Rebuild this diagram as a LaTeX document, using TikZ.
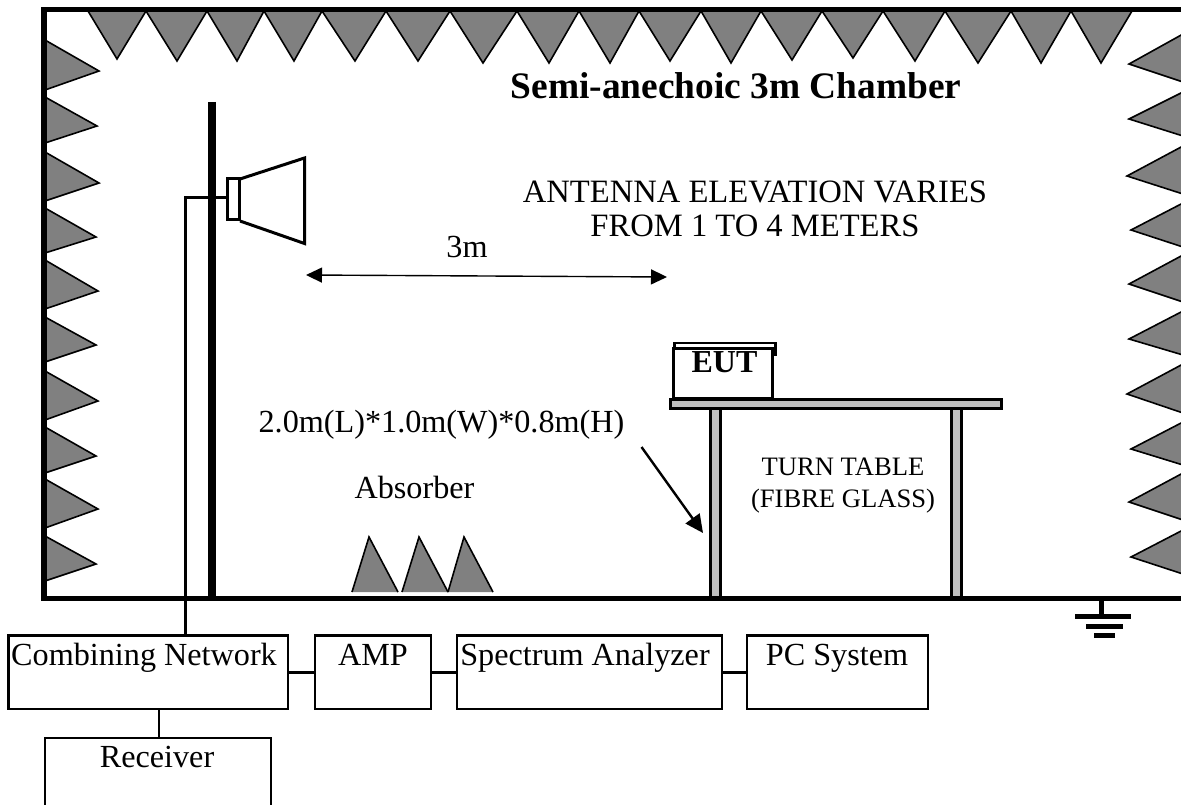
\documentclass[tikz,border=0pt]{standalone}
\usepackage{fontspec}
\setmainfont{Liberation Serif}
\usetikzlibrary{arrows.meta}
\definecolor{absgray}{HTML}{808080}
\definecolor{tblgray}{HTML}{C0C0C0}
\tikzset{
  absorber/.style={fill=absgray,draw=black,line width=1.6pt,line join=miter},
  wall/.style={draw=black,line width=5.5pt,line join=miter},
  boxnode/.style={draw=black,line width=2.6pt,inner sep=0pt,outer sep=0pt,fill=white},
  link/.style={draw=black,line width=2.6pt},
  txt/.style={inner sep=0pt,anchor=base,font=\fontsize{32.2}{34}\selectfont},
  btxt/.style={txt,font=\fontsize{32}{34}\selectfont\bfseries},
  titletxt/.style={txt,font=\fontsize{37.4}{40}\selectfont\bfseries},
  elevtxt/.style={inner sep=0pt,align=center,font=\fontsize{32.6}{34}\selectfont},
  smalltxt/.style={inner sep=0pt,align=center,font=\fontsize{26.6}{32}\selectfont},
  wood/.style={draw=black,line width=3pt,fill=tblgray,inner sep=0pt,outer sep=0pt},
  gbar/.style={draw=black,line width=5pt},
  pointer/.style={draw=black,line width=2.4pt,-{Triangle[length=18pt,width=17pt]}},
  span/.style={draw=black,line width=1.4pt,{Triangle[length=16pt,width=15pt]}-{Triangle[length=16pt,width=15pt]}},
}
\begin{document}
\begin{tikzpicture}[x=1pt,y=-1pt]
\useasboundingbox (0,0) rectangle (1181,805);
\clip (0,0) rectangle (1181,805);
% top absorbers: left base, apex x, apex y, right base
\foreach \a/\b/\c/\d in {88/117/59/146,146/177/61/207,207/237/61/264,264/294/61/322,322/355/61/386,
  386/418/61/450,450/483/63/517,517/549/63/579,579/610/63/639,639/670/61/701,701/731/63/761,
  761/792/60/822,822/853/58/883,883/915/61/945,945/978/63/1011,1011/1041/63/1071,1071/1101/63/1132}
  \draw[absorber] (\a,11) -- (\b,\c) -- (\d,11) -- cycle;
% left absorbers: top, tip x, tip y, bottom
\foreach \a/\b/\c/\d in {40/99/71/90,97/97/126/143,152/99/183/201,208/96/237/253,260/98/291/309,
  317/96/345/362,371/98/401/420,427/96/456/473,479/98/509/528,536/96/564/581}
  \draw[absorber] (45,\a) -- (\b,\c) -- (45,\d) -- cycle;
% right absorbers: top, tip x, tip y, bottom
\foreach \a/\b/\c/\d in {34/1129/64/82,92/1129/119/136,146/1127/176/194,203/1131/230/247,255/1129/284/302,
  311/1129/339/355,364/1127/394/413,422/1131/449/465,473/1129/502/520,530/1131/557/574}
  \draw[absorber] (1183,\a) -- (\b,\c) -- (1183,\d) -- cycle;
% floor absorbers (no outline along the base)
\foreach \a/\b/\d in {352/369/398,402/419/448,448/464/493}
  \draw[absorber] (\a,592) -- (\b,537) -- (\d,592);
% table legs, behind the floor line
\node[wood,minimum width=10pt,minimum height=190pt] (legL) at (715.5,503) {};
\node[wood,minimum width=10pt,minimum height=190pt] (legR) at (956,503) {};
% chamber
\draw[wall] (1190,9.5) -- (44,9.5) -- (44,598.5) -- (1190,598.5);
% mast
\draw[draw=black,line width=8pt] (212,102) -- (212,598);
% boxes
\node[boxnode,minimum width=279.5pt,minimum height=73.5pt] (cn) at (148.25,672.25) {};
\node[boxnode,minimum width=116pt,minimum height=73.5pt] (amp) at (373,672.25) {};
\node[boxnode,minimum width=265pt,minimum height=73.5pt] (sa) at (589.5,672.25) {};
\node[boxnode,minimum width=181pt,minimum height=73.5pt] (pc) at (837.5,672.25) {};
\node[boxnode,minimum width=226pt,minimum height=90pt] (rx) at (158,783) {};
\draw[link] (cn.east) -- (amp.west);
\draw[link] (amp.east) -- (sa.west);
\draw[link] (sa.east) -- (pc.west);
\coordinate (rxtop) at (159,738);
\draw[link] (rxtop) -- (rxtop |- cn.south);
% antenna
\node[boxnode,fill=white,line width=3pt,minimum width=12pt,minimum height=41pt] (feed) at (233,199.5) {};
\coordinate (hornA) at (240,179);
\coordinate (hornB) at (304.5,158);
\coordinate (hornC) at (304.5,243.5);
\coordinate (hornD) at (240,221);
\draw[draw=black,line width=3pt,line join=miter] (hornA) -- (hornB) -- (hornC) -- (hornD);
\coordinate (cablebot) at (185.5,636);
\coordinate (feedin) at (227,198);
\draw[draw=black,line width=3pt] (cablebot) |- (feedin);
% distance arrow
\coordinate (spanL) at (306,275);
\coordinate (spanR) at (667,277);
\draw[span] (spanL) -- (spanR);
% table top
\node[wood,minimum width=331pt,minimum height=9pt] (top) at (835.5,404) {};
% EUT
\node[draw=black,line width=2.4pt,inner sep=0pt,minimum width=101pt,minimum height=12pt] (eutback) at (725,349) {};
\node[draw=black,line width=3pt,fill=white,inner sep=0pt,minimum width=99pt,minimum height=50pt] (eut) at (723,373) {};
\node[btxt] (eutlabel) at (724.5,372) {EUT};
% pointer
\coordinate (ptrS) at (641.5,447);
\coordinate (ptrE) at (703,533);
\draw[pointer] (ptrS) -- (ptrE);
% ground
\coordinate (gnd) at (1101.5,600);
\coordinate (gndA) at (1101.5,616);
\draw[draw=black,line width=5pt] (gnd) -- (gndA);
\draw[gbar] (1075,616) -- (1131,616);
\draw[gbar] (1086,626) -- (1123,626);
\draw[gbar] (1094,635) -- (1115,635);
% texts
\node[titletxt] (title) at (736,99) {Semi-anechoic 3m Chamber};
\node[elevtxt] (elev) at (755,209) {ANTENNA ELEVATION VARIES\\FROM 1 TO 4 METERS};
\node[txt] (dist) at (467,258) {3m};
\node[txt] (size) at (441.5,432) {2.0m(L)*1.0m(W)*0.8m(H)};
\node[txt] (abs) at (414.5,498) {Absorber};
\node[smalltxt] (tt) at (843,486) {TURN TABLE\\(FIBRE GLASS)};
\node[txt] (cnt) at (144,665) {Combining Network};
\node[txt] (ampt) at (373,665) {AMP};
\node[txt] (sat) at (585,665) {Spectrum Analyzer};
\node[txt] (pct) at (837,665) {PC System};
\node[txt] (rxt) at (157,767) {Receiver};
\end{tikzpicture}
\end{document}
